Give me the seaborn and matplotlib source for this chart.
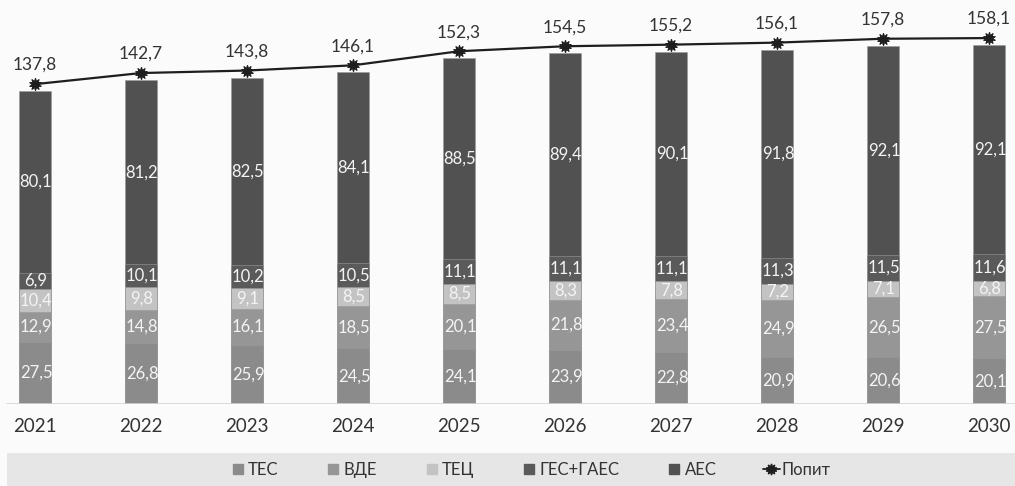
import numpy as np
import pandas as pd
import matplotlib
matplotlib.use("Agg")
import matplotlib.pyplot as plt
from matplotlib.patches import Rectangle
from matplotlib.lines import Line2D
import seaborn as sns

# Electricity generation structure by source and demand, by year
years = ["2021", "2022", "2023", "2024", "2025", "2026", "2027", "2028", "2029", "2030"]
tes = [27.5, 26.8, 25.9, 24.5, 24.1, 23.9, 22.8, 20.9, 20.6, 20.1]
vde = [12.9, 14.8, 16.1, 18.5, 20.1, 21.8, 23.4, 24.9, 26.5, 27.5]
tec = [10.4, 9.8, 9.1, 8.5, 8.5, 8.3, 7.8, 7.2, 7.1, 6.8]
ges = [6.9, 10.1, 10.2, 10.5, 11.1, 11.1, 11.1, 11.3, 11.5, 11.6]
aes = [80.1, 81.2, 82.5, 84.1, 88.5, 89.4, 90.1, 91.8, 92.1, 92.1]
demand = [137.8, 142.7, 143.8, 146.1, 152.3, 154.5, 155.2, 156.1, 157.8, 158.1]

series_names = ["ТЕС", "ВДЕ", "ТЕЦ", "ГЕС+ГАЕС", "АЕС"]
series_vals = [tes, vde, tec, ges, aes]
series_colors = ["#8b8b8b", "#969696", "#c3c3c3", "#5a5a5a", "#515151"]

sns.set_theme(style="white")
plt.rcParams["font.family"] = ["Lato", "DejaVu Sans"]

bg = "#fbfbfb"
fig = plt.figure(figsize=(10.15, 4.86), dpi=100, facecolor=bg)

# grey band behind the legend
fig.patches.append(Rectangle((7 / 1015, 0), 1, 33 / 486, transform=fig.transFigure,
                             facecolor="#e6e6e6", edgecolor="none", zorder=0))

ax = fig.add_axes([0, 82 / 486, 1, 404 / 486])
ax.set_facecolor("none")

df = pd.DataFrame({"year": years})
cum = np.zeros(len(years))
cums = []
for vals in series_vals:
    cum = cum + np.array(vals)
    cums.append(cum.copy())

# stacked bars: draw cumulative totals from the top series down
for name, color, c in reversed(list(zip(series_names, series_colors, cums))):
    df["h"] = c
    sns.barplot(data=df, x="year", y="h", color=color, width=0.31, ax=ax,
                saturation=1, edgecolor="#9a9a9a", linewidth=0.4, zorder=2)

# segment value labels
bottom = np.zeros(len(years))
for vals in series_vals:
    for i, v in enumerate(vals):
        ax.text(i + 0.01, bottom[i] + v / 2, f"{v:.1f}".replace(".", ","),
                ha="center", va="center", color="#f4f4f4", fontsize=12, zorder=4)
    bottom = bottom + np.array(vals)

ax.set_xlim(-35 / 106, (1015 - 35) / 106)
ax.set_ylim(0, 404 / 2.27)
ax.set_ylabel("")
ax.set_xlabel("")
ax.set_yticks([])
for s in ax.spines.values():
    s.set_visible(False)
ax.axhline(0, xmin=7 / 1015, xmax=1, color="#d4d4d4", lw=1.2, zorder=3)
ax.tick_params(axis="x", length=0, pad=10, labelsize=13.5, labelcolor="#333333")

# demand line, drawn slightly above the bar tops
ax2 = ax.twinx()
ax2.set_ylim(-3.1, 404 / 2.27 - 3.1)
ax2.set_yticks([])
for s in ax2.spines.values():
    s.set_visible(False)
sns.lineplot(x=np.arange(len(years)), y=demand, ax=ax2, color="#1e1e1e", lw=1.6,
             marker=(10, 1, 0), markersize=9, markeredgecolor="#1e1e1e", zorder=5)
for i, v in enumerate(demand):
    ax2.annotate(f"{v:.1f}".replace(".", ","), (i, v), xytext=(0, 8),
                 textcoords="offset points", ha="center", va="bottom",
                 fontsize=12.5, color="#333333")

handles = [Line2D([], [], marker="s", color=c, lw=0, markersize=7) for c in series_colors]
handles.append(Line2D([], [], color="#1e1e1e", lw=1.3, marker=(10, 1, 0), markersize=8))
fig.legend(handles, series_names + ["Попит"], loc="center",
           bbox_to_anchor=(530 / 1015, 16 / 486), ncol=6, frameon=False,
           fontsize=12, handlelength=1.0, handletextpad=0.1, columnspacing=2.8,
           labelcolor="#333333")

fig.savefig("out.png", dpi=100, facecolor=bg)
